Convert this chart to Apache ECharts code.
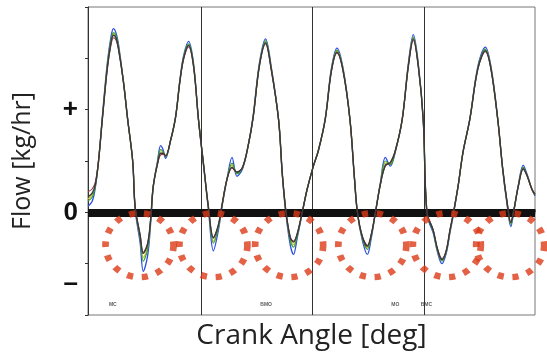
<!DOCTYPE html>
<html>
<head>
<meta charset="utf-8">
<script src="https://cdn.jsdelivr.net/npm/echarts@6/dist/echarts.min.js"></script>
<style>html,body{margin:0;padding:0;background:#fff}#c{width:547px;height:362px}</style>
</head>
<body>
<div id="c"></div>
<script>
// Crank angle samples (deg)
var angles = [0,7,12,17,23,31,37,41,45,49,
  57,64,72,76,84,89,96,101,105,112,
  117,121,125,133,141,148,154,162,170,178,
  186,194,202,210,216,224,232,240,249,258,
  266,276,286,295,307,313,319,326,331,337,
  345,353,363,371,382,392,401,411,422,429,
  434,442,450,456,463,471,479,487,495,506,
  516,524,532,540,546,556,563,570,577,583,
  588,596,604,615,628,640,649,660,668,675,
  681,686,693,701,707,715,720];

var flowBlack = [0.30,0.38,0.55,1.00,1.80,2.80,3.30,3.45,3.40,3.20,
  2.55,1.80,1.00,0.10,-0.45,-0.80,-0.62,-0.12,0.50,0.95,
  1.15,1.15,1.10,1.40,1.85,2.55,3.00,3.25,2.85,1.80,
  0.95,0.10,-0.50,-0.25,0.15,0.65,0.88,0.78,0.88,1.30,
  1.85,2.85,3.30,2.80,1.80,0.75,0.00,-0.50,-0.58,-0.42,
  0.00,0.45,0.90,1.20,1.80,2.75,3.12,2.75,1.80,0.70,
  0.00,-0.48,-0.66,-0.45,0.00,0.55,0.92,0.97,1.20,1.80,
  2.85,3.38,2.85,1.80,0.00,-0.35,-0.72,-0.92,-0.75,-0.35,
  -0.05,0.50,1.17,1.81,2.80,3.15,2.80,1.81,0.85,0.20,
  -0.20,0.05,0.50,0.85,0.72,0.45,0.35];

var flowBlue = [0.12,0.22,0.50,1.00,1.85,2.90,3.42,3.58,3.50,3.28,
  2.55,1.80,0.98,0.05,-0.60,-1.15,-0.85,-0.20,0.48,1.00,
  1.30,1.22,1.05,1.40,1.85,2.58,3.05,3.33,2.90,1.80,
  0.92,0.05,-0.75,-0.35,0.12,0.65,1.07,0.70,0.85,1.30,
  1.88,2.90,3.38,2.85,1.80,0.72,-0.05,-0.65,-0.82,-0.50,
  -0.02,0.45,0.90,1.20,1.82,2.80,3.20,2.80,1.80,0.68,
  -0.02,-0.55,-0.82,-0.52,0.00,0.58,1.07,0.90,1.18,1.80,
  2.90,3.46,2.90,1.80,-0.05,-0.40,-0.78,-1.00,-0.80,-0.40,
  -0.08,0.50,1.17,1.82,2.85,3.22,2.85,1.82,0.82,0.15,
  -0.28,0.02,0.52,0.92,0.75,0.45,0.32];

var flowGreen = [0.22,0.30,0.52,1.00,1.82,2.85,3.36,3.50,3.45,3.24,
  2.55,1.80,1.00,0.08,-0.52,-0.95,-0.72,-0.15,0.50,0.98,
  1.22,1.18,1.08,1.40,1.85,2.56,3.02,3.28,2.88,1.80,
  0.94,0.08,-0.60,-0.30,0.14,0.65,0.96,0.75,0.87,1.30,
  1.86,2.87,3.34,2.82,1.80,0.74,-0.02,-0.56,-0.68,-0.46,
  -0.01,0.45,0.90,1.20,1.81,2.77,3.16,2.77,1.80,0.69,
  -0.01,-0.51,-0.72,-0.48,0.00,0.56,1.00,0.93,1.19,1.80,
  2.87,3.42,2.87,1.80,-0.02,-0.37,-0.75,-0.95,-0.77,-0.37,
  -0.06,0.50,1.17,1.81,2.82,3.18,2.82,1.81,0.84,0.18,
  -0.24,0.04,0.51,0.88,0.73,0.45,0.34];

var flowYellow = [0.26,0.34,0.54,1.00,1.80,2.82,3.32,3.47,3.42,3.22,
  2.55,1.80,1.00,0.09,-0.48,-0.88,-0.68,-0.14,0.50,0.96,
  1.18,1.16,1.09,1.40,1.85,2.55,3.01,3.26,2.86,1.80,
  0.95,0.09,-0.56,-0.28,0.15,0.65,0.92,0.77,0.88,1.30,
  1.85,2.86,3.32,2.81,1.80,0.75,-0.01,-0.53,-0.63,-0.44,
  0.00,0.45,0.90,1.20,1.80,2.76,3.14,2.76,1.80,0.70,
  0.00,-0.50,-0.69,-0.46,0.00,0.55,0.96,0.95,1.20,1.80,
  2.86,3.40,2.86,1.80,-0.01,-0.36,-0.74,-0.93,-0.76,-0.36,
  -0.05,0.50,1.17,1.81,2.81,3.16,2.81,1.81,0.85,0.19,
  -0.22,0.04,0.50,0.86,0.72,0.45,0.35];

var flowRed = [0.40,0.46,0.60,1.02,1.80,2.78,3.26,3.40,3.36,3.18,
  2.55,1.80,1.00,0.10,-0.44,-0.78,-0.60,-0.12,0.50,0.94,
  1.12,1.13,1.10,1.40,1.85,2.54,2.98,3.22,2.84,1.80,
  0.95,0.10,-0.48,-0.24,0.15,0.65,0.86,0.79,0.88,1.30,
  1.84,2.84,3.28,2.79,1.80,0.75,0.00,-0.49,-0.56,-0.41,
  0.00,0.45,0.90,1.20,1.80,2.74,3.10,2.74,1.80,0.70,
  0.00,-0.47,-0.64,-0.44,0.00,0.55,0.90,0.97,1.20,1.80,
  2.84,3.35,2.84,1.80,0.00,-0.34,-0.71,-0.90,-0.74,-0.34,
  -0.05,0.50,1.17,1.81,2.79,3.13,2.79,1.81,0.85,0.21,
  -0.19,0.05,0.50,0.84,0.72,0.45,0.36];

// Cycle dividers (deg) and highlighted regions (deg, flow)
var dividerAngles = [183, 362, 541];
var circleAngles = [83, 202, 324, 458, 578, 680];
var circleFlow = [-0.64, -0.64, -0.64, -0.64, -0.64, -0.64];

// small event tags near the bottom
var tagAngles = [40, 287, 495, 545];
var tagFlow = [-1.79, -1.79, -1.79, -1.79];
var tagNames = ['MC', 'BMO', 'MO', 'BMC'];

// y tick labels
var yLabelValues = [2, 0, -1.4];
var yLabelTexts = ['+', '0', '\u2013'];

function pairs(xs, ys) { return xs.map(function (x, i) { return [x, ys[i]]; }); }

var chart = echarts.init(document.getElementById('c'), null, {renderer: 'canvas'});

function lineSeries(name, ys, color, w, z) {
  return {
    name: name, type: 'line', data: pairs(angles, ys), smooth: 0.35,
    showSymbol: false, symbol: 'none', z: z,
    lineStyle: {color: color, width: w}, silent: true
  };
}

var option = {
  animation: false,
  grid: {left: 88, right: 12, top: 7, bottom: 47, show: true, borderColor: '#777', borderWidth: 1},
  xAxis: [{
    type: 'value', min: 0, max: 720, interval: 10,
    name: 'Crank Angle [deg]', nameLocation: 'middle', nameGap: 7,
    nameTextStyle: {fontFamily: 'Open Sans', fontSize: 28, color: '#222', verticalAlign: 'top'},
    axisLine: {show: true, lineStyle: {color: '#333', width: 1}},
    axisTick: {show: true, inside: true, length: 3, lineStyle: {color: '#555'}},
    axisLabel: {show: false}, splitLine: {show: false}
  }, {
    type: 'value', min: 0, max: 720, interval: 10, position: 'top',
    axisLine: {show: true, lineStyle: {color: '#777', width: 1}},
    axisTick: {show: true, inside: true, length: 2, lineStyle: {color: '#999'}},
    axisLabel: {show: false}, splitLine: {show: false}
  }],
  yAxis: [{
    type: 'value', min: -2, max: 4, interval: 1,
    name: 'Flow [kg/hr]', nameLocation: 'middle', nameGap: 53,
    nameTextStyle: {fontFamily: 'Open Sans', fontSize: 25, color: '#222'},
    axisLine: {show: true, lineStyle: {color: '#333', width: 1}},
    axisTick: {show: true, inside: false, length: 3, lineStyle: {color: '#333'}},
    axisLabel: {show: false}, splitLine: {show: false}
  }, {
    type: 'value', min: -2, max: 4, interval: 0.2, position: 'left', offset: 0,
    axisLine: {show: false}, axisTick: {show: false}, splitLine: {show: false},
    axisLabel: {
      show: true, margin: 10, fontFamily: 'Liberation Sans', fontWeight: 'bold', fontSize: 26, color: '#111',
      formatter: function (v) {
        for (var i = 0; i < yLabelValues.length; i++) {
          if (Math.abs(v - yLabelValues[i]) < 1e-6) return yLabelTexts[i];
        }
        return '';
      }
    }
  }],
  series: [
    lineSeries('blue', flowBlue, '#2b4fe0', 1.3, 2),
    lineSeries('yellow', flowYellow, '#c9c228', 1.2, 3),
    lineSeries('green', flowGreen, '#3f9b3a', 1.2, 4),
    lineSeries('red', flowRed, '#9a3848', 1.1, 5),
    lineSeries('black', flowBlack, '#3a3a3a', 1.4, 6),
    {
      name: 'guides', type: 'line', data: [], z: 7, silent: true,
      markLine: {
        silent: true, symbol: 'none', animation: false, label: {show: false},
        data: dividerAngles.map(function (a) {
          return {xAxis: a, lineStyle: {color: '#333', width: 1, type: 'solid'}};
        }).concat([{yAxis: 0, lineStyle: {color: '#111', width: 8, type: 'solid'}}])
      }
    },
    {
      name: 'regions', type: 'scatter', data: pairs(circleAngles, circleFlow), z: 10, silent: true,
      symbol: 'circle', symbolSize: [68, 64],
      itemStyle: {color: 'rgba(0,0,0,0)', borderColor: '#dc3a16', borderWidth: 6.5, borderType: [6, 8.5]}
    },
    {
      name: 'tags', type: 'scatter', z: 9, silent: true, symbolSize: 1,
      itemStyle: {color: 'rgba(0,0,0,0)'},
      data: tagAngles.map(function (a, i) { return {value: [a, tagFlow[i]], name: tagNames[i]}; }),
      label: {show: true, position: 'inside', formatter: '{b}', fontSize: 5, fontWeight: 'bold', color: '#333', fontFamily: 'Liberation Sans'}
    }
  ]
};
chart.setOption(option);
</script>
</body>
</html>
